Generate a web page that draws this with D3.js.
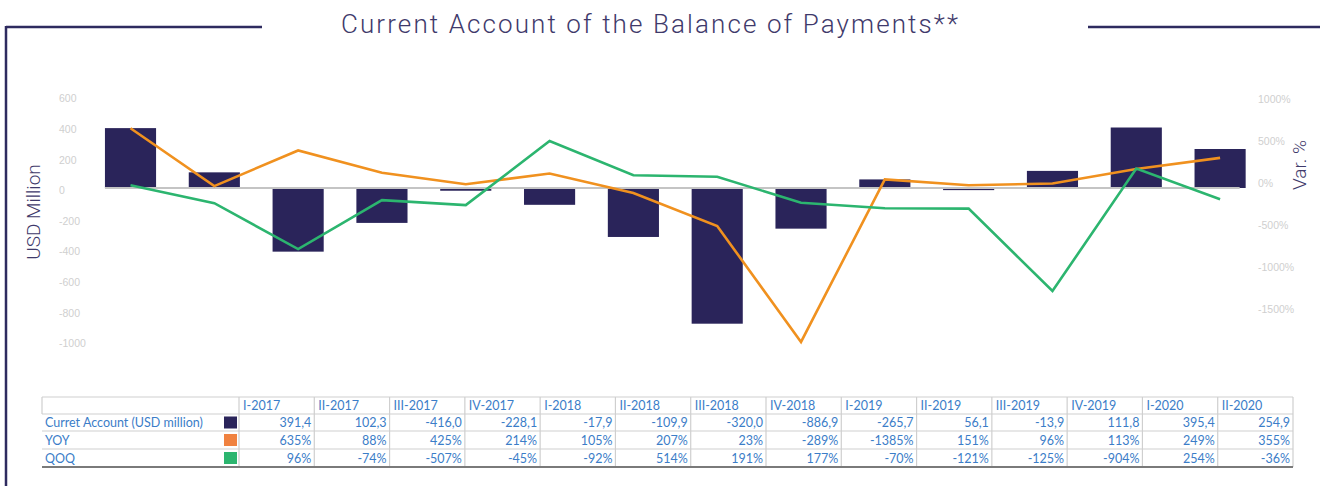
<!DOCTYPE html>
<html>
<head>
<meta charset="utf-8">
<title>Current Account of the Balance of Payments</title>
<script src="https://d3js.org/d3.v7.min.js"></script>
<style>
  body { margin: 0; background: #fff; }
  svg { display: block; }
</style>
</head>
<body>
<div id="chart"></div>
<script>
// quarters, current account (USD million) and the two variation series (%)
var quarters = ["I-2017", "II-2017", "III-2017", "IV-2017", "I-2018", "II-2018", "III-2018",
                "IV-2018", "I-2019", "II-2019", "III-2019", "IV-2019", "I-2020", "II-2020"];
var currentAccount = [391.4, 102.3, -416.0, -228.1, -17.9, -109.9, -320.0,
                      -886.9, -265.7, 56.1, -13.9, 111.8, 395.4, 254.9];
var yoy = [635, 88, 425, 214, 105, 207, 23, -289, -1385, 151, 96, 113, 249, 355];
var qoq = [96, -74, -507, -45, -92, 514, 191, 177, -70, -121, -125, -904, 254, -36];

var leftTicks = [600, 400, 200, 0, -200, -400, -600, -800, -1000];
var rightTicks = [1000, 500, 0, -500, -1000, -1500];
var rowLabels = ["Curret Account (USD million)", "YOY", "QOQ"];

var navy = "#2a245a", orange = "#f0911f", green = "#2cb56f";
var swatch = [navy, "#f08240", "#2cb56f"];
var ink = "#3f3a6b", tickGrey = "#cfcfcf", blue = "#3b7dc8";

var W = 1320, H = 486;
var svg = d3.select("#chart").append("svg")
    .attr("width", W).attr("height", H);

// frame + title
var frame = svg.append("g").attr("stroke", "#2e2b5f").attr("stroke-width", 2.5);
frame.append("line").attr("x1", 6).attr("x2", 262).attr("y1", 27).attr("y2", 27);
frame.append("line").attr("x1", 6).attr("x2", 6).attr("y1", 26).attr("y2", H);
frame.append("line").attr("x1", 1088).attr("x2", W).attr("y1", 27).attr("y2", 27);

svg.append("text")
    .attr("x", 341).attr("y", 33)
    .attr("textLength", 617)
    .attr("lengthAdjust", "spacing")
    .attr("font-family", "Roboto")
    .attr("font-weight", 300)
    .attr("font-size", "26px")
    .attr("fill", ink)
    .text("Current Account of the Balance of Payments**");

// scales
var x = d3.scaleBand()
    .domain(quarters)
    .range([88.6, 1262])
    .paddingInner(0.39)
    .paddingOuter(0.195);

var y = d3.scaleLinear().domain([-1000, 600]).range([341, 96.2]);
// variation lines sit on their own secondary scale, the printed % ticks on another
var yVar = d3.scaleLinear().domain([-1500, 1000]).range([354.1, 89.6]);
var yVarAxis = d3.scaleLinear().domain([-1500, 1000]).range([309, 99]);

// left axis
var axL = svg.append("g")
    .attr("transform", "translate(59,0)")
    .call(d3.axisLeft(y).tickValues(leftTicks).tickSize(0).tickPadding(0)
        .tickFormat(function(d) { return String(d); }));
axL.select(".domain").remove();
axL.selectAll("text")
    .attr("text-anchor", "start")
    .attr("dy", "0.55em")
    .attr("fill", tickGrey)
    .attr("font-family", "Liberation Sans")
    .attr("font-size", "10.5px");

// right axis
var axR = svg.append("g")
    .attr("transform", "translate(1258,0)")
    .call(d3.axisRight(yVarAxis).tickValues(rightTicks).tickSize(0).tickPadding(0)
        .tickFormat(function(d) { return d + "%"; }));
axR.select(".domain").remove();
axR.selectAll("text")
    .attr("dy", "0.35em")
    .attr("fill", tickGrey)
    .attr("font-family", "Liberation Sans")
    .attr("font-size", "10.5px");

// axis titles
svg.append("text")
    .attr("transform", "translate(40,212)rotate(-90)")
    .attr("text-anchor", "middle")
    .attr("font-family", "Roboto").attr("font-weight", 300)
    .attr("font-size", "19px").attr("fill", ink)
    .text("USD Million");
svg.append("text")
    .attr("transform", "translate(1306,165)rotate(-90)")
    .attr("text-anchor", "middle")
    .attr("font-family", "Roboto").attr("font-weight", 300)
    .attr("font-size", "19px").attr("fill", ink)
    .text("Var. %");

// bars
svg.append("g").selectAll("rect")
    .data(currentAccount)
    .join("rect")
    .attr("x", function(d, i) { return x(quarters[i]); })
    .attr("y", function(d) { return y(Math.max(0, d)); })
    .attr("width", x.bandwidth())
    .attr("height", function(d) { return Math.abs(y(d) - y(0)); })
    .attr("fill", navy);

// zero line
svg.append("line")
    .attr("x1", x(quarters[0]))
    .attr("x2", x(quarters[quarters.length - 1]) + x.bandwidth() - 6)
    .attr("y1", y(0)).attr("y2", y(0))
    .attr("stroke", "#c4c4c4").attr("stroke-width", 2);

// variation lines
var line = d3.line()
    .x(function(d, i) { return x(quarters[i]) + x.bandwidth() / 2; })
    .y(function(d) { return yVar(d); });

svg.append("path").datum(yoy)
    .attr("d", line).attr("fill", "none")
    .attr("stroke", orange).attr("stroke-width", 2.6);
svg.append("path").datum(qoq)
    .attr("d", line).attr("fill", "none")
    .attr("stroke", green).attr("stroke-width", 2.6);

// data table
var tLeft = 42, tFirst = 239, tRight = 1293;
var rowY = [397, 414, 431, 449, 467];
var col = d3.scaleBand().domain(quarters).range([tFirst, tRight]);
var fmtNum = function(v) { return d3.format(".1f")(v).replace(".", ",").replace("−", "-"); };
var fmtPct = function(v) { return v + "%"; };
var rows = [currentAccount.map(fmtNum), yoy.map(fmtPct), qoq.map(fmtPct)];

var tbl = svg.append("g")
    .attr("font-family", "Lato")
    .attr("font-size", "12.5px")
    .attr("fill", blue);

// grid
var grid = tbl.append("g").attr("stroke", "#cfcfcf").attr("stroke-width", 1.2);
grid.selectAll("line.h")
    .data(rowY.slice(0, 4))
    .join("line")
    .attr("x1", tLeft).attr("x2", tRight)
    .attr("y1", function(d) { return d; }).attr("y2", function(d) { return d; });
grid.selectAll("line.v")
    .data(quarters.concat(["end"]))
    .join("line")
    .attr("x1", function(d) { return d === "end" ? tRight : col(d); })
    .attr("x2", function(d) { return d === "end" ? tRight : col(d); })
    .attr("y1", rowY[0]).attr("y2", rowY[4]);
grid.append("line")
    .attr("x1", tLeft).attr("x2", tLeft)
    .attr("y1", rowY[0]).attr("y2", rowY[1]);
tbl.append("line")
    .attr("x1", tLeft).attr("x2", tRight)
    .attr("y1", rowY[4]).attr("y2", rowY[4])
    .attr("stroke", "#7a7a7a").attr("stroke-width", 1.8);

// header
tbl.selectAll("text.hd")
    .data(quarters)
    .join("text")
    .attr("x", function(d) { return col(d) + 4; })
    .attr("y", (rowY[0] + rowY[1]) / 2)
    .attr("dy", "0.36em")
    .text(function(d) { return d; });

// row labels + legend swatches + values
rowLabels.forEach(function(lab, r) {
    var cy = (rowY[r + 1] + rowY[r + 2]) / 2;
    tbl.append("text")
        .attr("x", 45).attr("y", cy).attr("dy", "0.36em")
        .text(lab);
    tbl.append("rect")
        .attr("x", 224).attr("y", cy - 6)
        .attr("width", 13).attr("height", 12)
        .attr("fill", swatch[r]);
    tbl.append("g").selectAll("text")
        .data(rows[r])
        .join("text")
        .attr("x", function(d, i) { return col(quarters[i]) + col.bandwidth() - 3; })
        .attr("y", cy).attr("dy", "0.36em")
        .attr("text-anchor", "end")
        .text(function(d) { return d; });
});
</script>
</body>
</html>
